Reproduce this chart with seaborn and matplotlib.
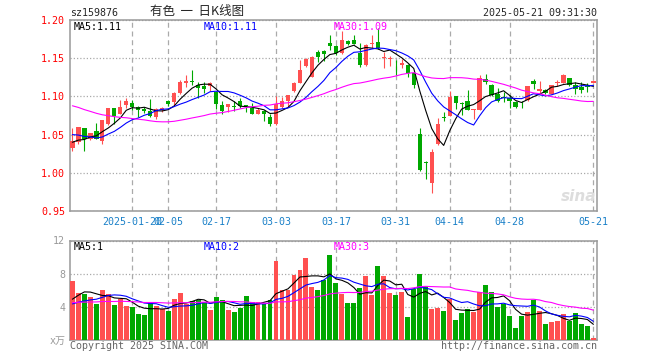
import numpy as np
import pandas as pd
import matplotlib
matplotlib.use("Agg")
import matplotlib.pyplot as plt
import seaborn as sns

sns.set_style("white")
plt.rcParams["font.family"] = ["DejaVu Sans Mono", "Noto Sans CJK SC"]

W, H = 660, 360
RED, GREEN = "#ff5050", "#00a800"

# ── daily candles, 2025-01-06 .. 2025-05-21 (88 trading days) ────────────────
opens = [1.0331, 1.0397, 1.0582, 1.0440, 1.0550, 1.0418, 1.0638, 1.0845, 1.0770, 1.0890,
         1.0910, 1.0858, 1.0838, 1.0805, 1.0725, 1.0826, 1.0945, 1.0925, 1.1046, 1.1180,
         1.1205, 1.1150, 1.1142, 1.1134, 1.1055, 1.0888, 1.0866, 1.0880, 1.0945, 1.0888,
         1.0845, 1.0770, 1.0813, 1.0726, 1.0640, 1.0865, 1.0945, 1.1066, 1.1180, 1.1400,
         1.1260, 1.1575, 1.1600, 1.1698, 1.1654, 1.1566, 1.1730, 1.1740, 1.1570, 1.1410,
         1.1682, 1.1715, 1.1504, 1.1487, 1.1430, 1.1417, 1.1417, 1.1307, 1.0507, 1.0140,
         0.9862, 1.0375, 1.0730, 1.0747, 1.1003, 1.0920, 1.0940, 1.0822, 1.0826, 1.1230,
         1.1153, 1.1033, 1.0990, 1.0978, 1.0925, 1.0892, 1.0950, 1.1197, 1.1070, 1.1080,
         1.1035, 1.1180, 1.1180, 1.1241, 1.1150, 1.1123, 1.1140, 1.1180]
highs = [1.0585, 1.0603, 1.0585, 1.0520, 1.0650, 1.0695, 1.0845, 1.0850, 1.0950, 1.0976,
         1.0950, 1.0880, 1.0860, 1.0970, 1.0845, 1.0866, 1.0950, 1.1055, 1.1220, 1.1274,
         1.1340, 1.1195, 1.1195, 1.1195, 1.1065, 1.0945, 1.0905, 1.0945, 1.0975, 1.0890,
         1.0920, 1.0845, 1.0825, 1.0770, 1.1000, 1.0995, 1.1020, 1.1185, 1.1470, 1.1505,
         1.1530, 1.1610, 1.1605, 1.1805, 1.1670, 1.1850, 1.1740, 1.1800, 1.1697, 1.1690,
         1.1800, 1.1890, 1.1575, 1.1530, 1.1480, 1.1487, 1.1430, 1.1320, 1.0580, 1.0160,
         1.0310, 1.0717, 1.0792, 1.1077, 1.1003, 1.0925, 1.1085, 1.0835, 1.1276, 1.1290,
         1.1160, 1.1110, 1.1063, 1.1020, 1.0935, 1.0935, 1.1140, 1.1232, 1.1197, 1.1100,
         1.1155, 1.1211, 1.1290, 1.1245, 1.1195, 1.1190, 1.1180, 1.1215]
lows = [1.0283, 1.0375, 1.0287, 1.0430, 1.0440, 1.0375, 1.0620, 1.0640, 1.0765, 1.0850,
        1.0826, 1.0734, 1.0780, 1.0730, 1.0710, 1.0800, 1.0880, 1.0880, 1.1030, 1.1120,
        1.1150, 1.0976, 1.1050, 1.1070, 1.0836, 1.0770, 1.0800, 1.0810, 1.0850, 1.0800,
        1.0765, 1.0765, 1.0680, 1.0608, 1.0630, 1.0850, 1.0860, 1.1055, 1.1180, 1.1390,
        1.1250, 1.1456, 1.1465, 1.1605, 1.1545, 1.1550, 1.1670, 1.1685, 1.1390, 1.1400,
        1.1630, 1.1620, 1.1375, 1.1400, 1.1276, 1.1373, 1.1254, 1.1110, 1.0024, 0.9925,
        0.9730, 1.0362, 1.0682, 1.0740, 1.0836, 1.0757, 1.0820, 1.0705, 1.0820, 1.1160,
        1.1000, 1.0925, 1.0930, 1.0846, 1.0850, 1.0846, 1.0940, 1.1092, 1.1040, 1.1030,
        1.1030, 1.1140, 1.1175, 1.1140, 1.1030, 1.1040, 1.1060, 1.1175]
closes = [1.0418, 1.0601, 1.0441, 1.0520, 1.0440, 1.0690, 1.0845, 1.0747, 1.0866, 1.0945,
          1.0858, 1.0816, 1.0805, 1.0745, 1.0836, 1.0845, 1.0902, 1.1050, 1.1187, 1.1208,
          1.1195, 1.1110, 1.1100, 1.1180, 1.0900, 1.0813, 1.0901, 1.0865, 1.0880, 1.0872,
          1.0770, 1.0826, 1.0775, 1.0640, 1.0900, 1.0940, 1.1015, 1.1180, 1.1340, 1.1487,
          1.1520, 1.1512, 1.1560, 1.1660, 1.1566, 1.1743, 1.1690, 1.1690, 1.1410, 1.1670,
          1.1700, 1.1640, 1.1518, 1.1504, 1.1420, 1.1443, 1.1311, 1.1153, 1.0037, 1.0130,
          1.0266, 1.0638, 1.0722, 1.0990, 1.0914, 1.0905, 1.0826, 1.0830, 1.1240, 1.1190,
          1.1020, 1.0945, 1.0975, 1.0935, 1.0860, 1.0885, 1.1135, 1.1165, 1.1100, 1.1050,
          1.1153, 1.1190, 1.1285, 1.1153, 1.1100, 1.1080, 1.1120, 1.1205]
volumes = [7.06, 5.69, 5.56, 5.20, 4.35, 6.05, 5.56, 4.23, 4.92, 4.11,
           3.99, 3.15, 3.02, 4.60, 4.11, 3.79, 3.51, 4.96, 5.69, 4.35,
           4.72, 4.84, 4.60, 3.63, 5.20, 4.84, 3.63, 3.39, 3.87, 5.32,
           4.60, 4.60, 4.35, 4.84, 9.56, 6.05, 6.05, 7.86, 8.47, 9.88,
           6.41, 6.05, 7.26, 10.28, 6.85, 5.56, 4.48, 4.48, 6.25, 7.74,
           5.44, 8.95, 7.74, 5.69, 5.44, 5.81, 2.78, 6.13, 7.98, 6.53,
           3.75, 3.87, 3.51, 4.96, 2.42, 3.27, 3.75, 3.39, 5.81, 6.65,
           5.81, 3.99, 4.35, 2.90, 1.45, 2.90, 3.39, 4.84, 3.51, 1.94,
           2.18, 2.30, 3.15, 2.30, 3.27, 1.94, 1.69, 0.24]

# sessions before the window, only used to seed the moving averages
prev_close = [1.125, 1.130, 1.122, 1.118, 1.128, 1.120, 1.112, 1.115, 1.110, 1.118,
              1.108, 1.105, 1.112, 1.113, 1.095, 1.088, 1.085, 1.078, 1.080, 1.070,
              1.066, 1.062, 1.058, 1.058, 1.056, 1.046, 1.040, 1.035, 1.037]
prev_volume = [4.2, 5.1, 4.8, 3.9, 4.6, 5.3, 4.4, 4.0, 4.9, 4.7,
               4.3, 5.0, 4.5, 4.1, 4.8, 4.6, 4.4, 4.9, 4.3, 4.7,
               3.6, 4.1, 3.9, 3.5, 3.8, 3.3, 3.55, 5.3, 5.39]

tick_pos = [10, 16, 24, 34, 44, 54, 63, 73, 87]
tick_labels = ["2025-01-20", "02-05", "02-17", "03-03", "03-17",
               "03-31", "04-14", "04-28", "05-21"]

# ── frame ───────────────────────────────────────────────────────────────────
df = pd.DataFrame({"open": opens, "high": highs, "low": lows,
                   "close": closes, "vol": volumes})
n = len(df)
df["i"] = np.arange(n)
df["dir"] = np.where(df["close"] >= df["open"], "up", "down")
colors = np.where(df["dir"] == "up", RED, GREEN)

cl = pd.Series(prev_close + closes)
vo = pd.Series(prev_volume + volumes)
k0 = len(prev_close)
MA_COLORS = {5: "black", 10: "#0000ff", 30: "#ff00ff"}
for k in MA_COLORS:
    df[f"ma{k}"] = cl.rolling(k).mean().iloc[k0:].to_numpy()
    df[f"vma{k}"] = vo.rolling(k).mean().iloc[k0:].to_numpy()

fig = plt.figure(figsize=(W / 100, H / 100), dpi=100)
ax = fig.add_axes([70 / W, 1 - 211 / H, 527 / W, 191 / H])
axv = fig.add_axes([70 / W, 1 - 340 / H, 527 / W, 99.5 / H])

# candles
ax.vlines(df["i"], df["low"], df["high"], colors=colors, lw=0.8, zorder=3)
body = np.maximum((df["close"] - df["open"]).abs(), 0.0008)
ax.bar(df["i"], body, bottom=df[["open", "close"]].min(axis=1), width=0.72,
       color=colors, linewidth=0, zorder=3)
for k, c in MA_COLORS.items():
    sns.lineplot(data=df, x="i", y=f"ma{k}", ax=ax, color=c, lw=0.8, zorder=4)

# volume
sns.barplot(data=df, x="i", y="vol", hue="dir", palette={"up": RED, "down": GREEN},
            dodge=False, width=0.82, saturation=1, legend=False, linewidth=0,
            ax=axv, zorder=3)
for k, c in MA_COLORS.items():
    sns.lineplot(data=df, x="i", y=f"vma{k}", ax=axv, color=c, lw=0.8, zorder=4)

GRID = "#aaaaaa"
for a in (ax, axv):
    a.set_xlim(-0.4, n - 0.4)
    a.set_xticks(tick_pos)
    a.set_xlabel("")
    a.set_ylabel("")
    a.set_axisbelow(True)
    a.grid(axis="x", color=GRID, lw=0.9, ls=(0, (4, 3)))
    a.grid(axis="y", color=GRID, lw=0.9, ls=(0, (1, 1.6)))
    a.tick_params(length=0, labelsize=7.2)
    for s in a.spines.values():
        s.set_color("#999999")
        s.set_linewidth(1.1)

ax.set_ylim(0.95, 1.20)
ax.set_yticks([0.95, 1.00, 1.05, 1.10, 1.15, 1.20])
ax.set_yticklabels([f"{v:.2f}" for v in ax.get_yticks()], color="red")
ax.set_xticklabels(tick_labels, color="#1a80c8")
ax.tick_params(axis="x", pad=4)
ax.tick_params(axis="y", pad=3.5)

axv.set_ylim(0, 12)
axv.set_yticks([0, 4, 8, 12])
axv.set_yticklabels(["x万", "4", "8", "12"], color="#999999")
axv.set_xticklabels([])
axv.tick_params(axis="y", pad=3.5)


def ftext(x, y, s, **kw):
    fig.text(x / W, 1 - y / H, s, fontsize=7.2, **kw)


# legends
for x, lab, c in [(74, "MA5:1.11", "black"), (204, "MA10:1.11", "#0000ff"),
                  (334, "MA30:1.09", "#ff00ff")]:
    ftext(x, 22, lab, color=c, va="top")
for x, lab, c in [(74, "MA5:1", "black"), (204, "MA10:2", "#0000ff"),
                  (334, "MA30:3", "#ff00ff")]:
    ftext(x, 242, lab, color=c, va="top")

# header / footer
ftext(70, 17.5, "sz159876", va="bottom")
fig.text(150 / W, 1 - 17.5 / H, "有色  一  日K线图", fontsize=9, va="bottom",
         family=["Noto Sans CJK SC", "DejaVu Sans"])
ftext(597, 17.5, "2025-05-21 09:31:30", va="bottom", ha="right")
ftext(70, 346, "Copyright 2025 SINA.COM", va="center", color="#666666")
ftext(597, 346, "http://finance.sina.com.cn", va="center", ha="right", color="#666666")
fig.text(596 / W, 1 - 204 / H, "sina", fontsize=11, fontweight="bold", style="italic",
         ha="right", va="bottom", color="#dddddd", family="DejaVu Sans")

fig.savefig("out.png", dpi=100)
